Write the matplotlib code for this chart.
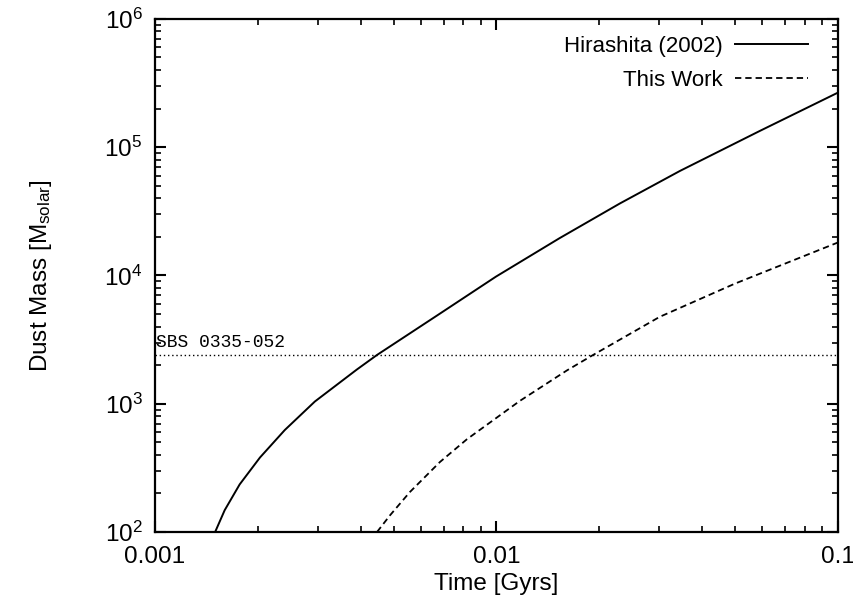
import numpy as np
import matplotlib
matplotlib.use("Agg")
import matplotlib.pyplot as plt
from matplotlib.ticker import FixedLocator, FixedFormatter, LogLocator

plt.rcParams['font.family'] = ['Liberation Sans', 'DejaVu Sans']
plt.rcParams['mathtext.fontset'] = 'custom'
plt.rcParams['mathtext.rm'] = 'Liberation Sans'
plt.rcParams['mathtext.it'] = 'Liberation Sans:italic'

# Hirashita (2002) model
t_hira = [0.00150, 0.00160, 0.00177, 0.00203, 0.00240, 0.00294, 0.00390, 0.00447,
          0.00670, 0.00997, 0.0153, 0.0230, 0.0345, 0.0591, 0.1]
m_hira = [100, 148, 235, 381, 624, 1041, 1846, 2400,
          4870, 9790, 19500, 36400, 65300, 133800, 265800]

# this work
t_this = [0.00447, 0.00488, 0.00558, 0.00683, 0.0082, 0.0117, 0.0161, 0.0192,
          0.0301, 0.0499, 0.1]
m_this = [100, 135, 205, 351, 529, 1050, 1820, 2400,
          4760, 8620, 18050]

# observed dust mass of SBS 0335-052
m_sbs = 2400

x_ticks = [0.001, 0.01, 0.1]
x_labels = ['0.001', '0.01', '0.1']

fig = plt.figure(figsize=(8.54, 6.09), dpi=100)
ax = fig.add_axes([0.1815, 0.1264, 0.7995, 0.8426])

ax.plot(t_hira, m_hira, color='black', lw=1.4, label='Hirashita (2002)')
ax.plot(t_this, m_this, color='black', lw=1.3, linestyle=(0, (3.5, 2.2)), label='This Work')
ax.axhline(m_sbs, color='black', lw=1.0, linestyle=(0, (1, 2)))
ax.text(0.00101, m_sbs * 1.08, 'SBS 0335-052', family='Liberation Mono',
        fontsize=13, va='bottom', ha='left')

ax.set_xscale('log')
ax.set_yscale('log')
ax.set_xlim(0.001, 0.1)
ax.set_ylim(1e2, 1e6)

ax.xaxis.set_major_locator(FixedLocator(x_ticks))
ax.xaxis.set_major_formatter(FixedFormatter(x_labels))
ax.xaxis.set_minor_locator(LogLocator(base=10, subs=np.arange(2, 10)))
ax.yaxis.set_minor_locator(LogLocator(base=10, subs=np.arange(2, 10)))

ax.tick_params(which='both', direction='in', top=True, right=True, labelsize=17.5)
ax.tick_params(which='major', length=8, width=1.5)
ax.tick_params(which='minor', length=4, width=1.2)
ax.tick_params(axis='y', which='major', pad=9)
ax.tick_params(axis='x', which='major', pad=10)
for s in ax.spines.values():
    s.set_linewidth(1.6)

ax.set_xlabel('Time [Gyrs]', fontsize=17.5, labelpad=4)
ax.set_ylabel('Dust Mass [M$_{\\mathrm{solar}}$]', fontsize=17.5, labelpad=36)

ax.legend(loc='upper right', bbox_to_anchor=(0.970, 0.984), borderaxespad=0,
          frameon=False, markerfirst=False, fontsize=16,
          handlelength=3.3, handletextpad=0.55, labelspacing=0.59)

fig.savefig('out.png', dpi=100)
